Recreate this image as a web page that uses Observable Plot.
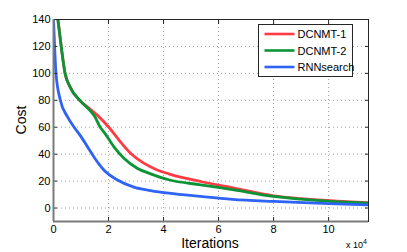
<!DOCTYPE html>
<html><head><meta charset="utf-8">
<script src="https://cdn.jsdelivr.net/npm/d3@7"></script>
<script src="https://cdn.jsdelivr.net/npm/@observablehq/plot@0.6"></script>
<style>body{margin:0;background:#fff}#c{position:relative;width:407px;height:252px}</style>
</head><body><div id="c"></div>
<script>
// x in units of 1e4 iterations
const seriesNames = ["DCNMT-1", "DCNMT-2", "RNNsearch"];
const colors = ["#ff3b45", "#0b9436", "#2e63f5"];
const dcnmt1X = [0.16, 0.28, 0.42, 0.6, 0.95, 1.3, 1.59, 2.01, 2.38, 2.8, 3.28, 3.77, 4.19, 5.35, 6.56, 8.0, 9.0, 10.07, 11.45];
const dcnmt1Y = [140, 120, 100, 90, 80, 74, 69, 60, 50.5, 40.7, 33.3, 28.3, 25.4, 19.7, 14.8, 9.1, 7.0, 5.4, 3.9];
const dcnmt2X = [0.16, 0.28, 0.42, 0.6, 1.0, 1.25, 1.5, 1.7, 1.85, 2.19, 2.56, 3.04, 3.53, 4.19, 5.35, 6.56, 8.0, 9.0, 10.07, 11.45];
const dcnmt2Y = [140, 120, 100, 90, 79, 74, 68, 60, 56, 45.6, 37, 29.6, 25.4, 21, 17.2, 13.5, 8.6, 6.6, 4.9, 3.7];
const rnnX = [0.0, 0.04, 0.09, 0.25, 0.5, 0.75, 1.0, 1.25, 1.5, 1.83, 2.31, 2.92, 3.53, 4.19, 5.35, 6.5, 8.0, 10.0, 11.45];
const rnnY = [140, 120, 100, 80, 68, 60, 53, 45, 37, 28.3, 21, 15.5, 13, 11, 8.6, 6.5, 4.9, 3.3, 2.4];
const xTicks = [0, 2, 4, 6, 8, 10];
const yTicks = [0, 20, 40, 60, 80, 100, 120, 140];

const mk = (xs, ys, s) => xs.map((x, i) => ({x, y: ys[i], s}));
const data = [
  ...mk(dcnmt1X, dcnmt1Y, seriesNames[0]),
  ...mk(dcnmt2X, dcnmt2Y, seriesNames[1]),
  ...mk(rnnX, rnnY, seriesNames[2])
];
const font = "Liberation Sans, Arial, sans-serif";
const axisCol = "#262626";
const tickLen = 4;
const chart = Plot.plot({
  width: 407, height: 252,
  marginLeft: 53, marginRight: 39, marginTop: 19, marginBottom: 31,
  style: {fontFamily: font, fontSize: "11px", color: "#000", background: "#fff"},
  x: {domain: [0, 11.45], ticks: xTicks, label: null},
  y: {domain: [-10, 140], ticks: yTicks, label: null},
  color: {domain: seriesNames, range: colors},
  marks: [
    Plot.gridX(xTicks, {stroke: "#888", strokeOpacity: 0.8, strokeDasharray: "1,3"}),
    Plot.gridY(yTicks, {stroke: "#888", strokeOpacity: 0.8, strokeDasharray: "1,3"}),
    Plot.line(data, {x: "x", y: "y", z: "s", stroke: "s", strokeWidth: 2.8, curve: "monotone-x", clip: true}),
    Plot.axisX(xTicks, {anchor: "bottom", tickSize: -tickLen, tickPadding: 8, stroke: axisCol, fontSize: 11}),
    Plot.axisX(xTicks, {anchor: "top", tickSize: -tickLen, text: null, label: null, stroke: axisCol}),
    Plot.axisY(yTicks, {anchor: "left", tickSize: -tickLen, tickPadding: 7, stroke: axisCol, fontSize: 11}),
    Plot.axisY(yTicks, {anchor: "right", tickSize: -tickLen, text: null, label: null, stroke: axisCol}),
    Plot.frame({stroke: axisCol, strokeWidth: 1}),
    Plot.ruleX([0], {stroke: "#7a7a7a", strokeWidth: 2}),
    Plot.ruleY([-10], {stroke: "#7a7a7a", strokeWidth: 2})
  ]
});
document.getElementById("c").appendChild(chart);
const svg = d3.select(chart);
svg.append("text").attr("x", 210).attr("y", 248).attr("text-anchor", "middle")
  .attr("font-family", font).attr("font-size", 14).text("Iterations");
svg.append("text").attr("transform", "translate(26,120) rotate(-90)").attr("text-anchor", "middle")
  .attr("font-family", font).attr("font-size", 14).text("Cost");
const ex = svg.append("text").attr("x", 346).attr("y", 248).attr("text-anchor", "start").attr("font-family", font).attr("font-size", 9);
ex.append("tspan").text("x 10");
ex.append("tspan").attr("dy", -4).attr("font-size", 7).text("4");
// legend
const lg = svg.append("g").attr("transform", "translate(258.5,24.5)");
lg.append("rect").attr("width", 94).attr("height", 52).attr("fill", "#fff").attr("stroke", axisCol);
seriesNames.forEach((n, i) => {
  const y = 9.5 + i * 16.5;
  lg.append("line").attr("x1", 6).attr("x2", 36).attr("y1", y).attr("y2", y).attr("stroke", colors[i]).attr("stroke-width", 2.6);
  lg.append("text").attr("x", 39).attr("y", y + 4).attr("text-anchor", "start").attr("font-family", font).attr("font-size", 11).text(n);
});
</script></body></html>
